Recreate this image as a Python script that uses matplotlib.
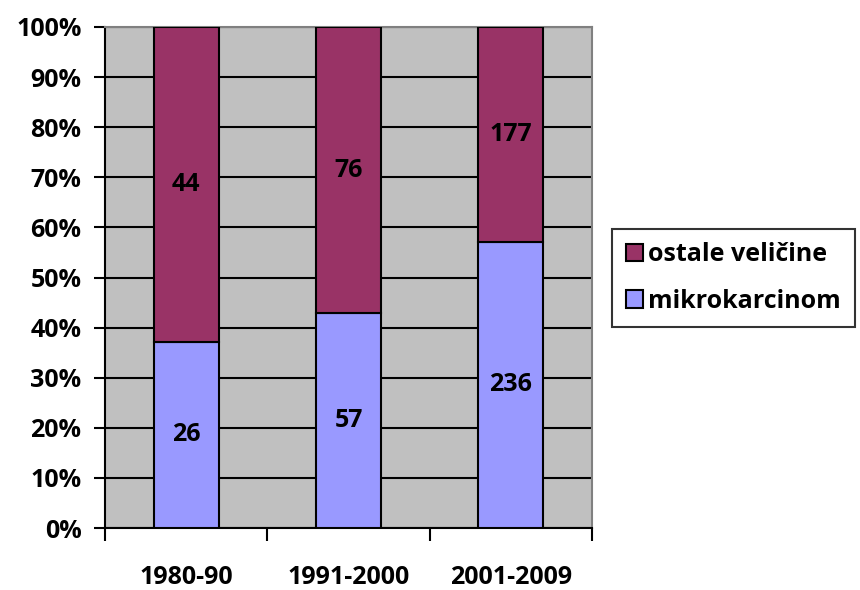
import matplotlib
matplotlib.use("Agg")
import matplotlib.pyplot as plt
import numpy as np

categories = ["1980-90", "1991-2000", "2001-2009"]
mikro = [26, 57, 236]
ostale = [44, 76, 177]
series_names = ["mikrokarcinom", "ostale veličine"]
colors = ["#9999FF", "#993366"]

plt.rcParams['font.family'] = ['Open Sans', 'DejaVu Sans']
plt.rcParams['font.weight'] = 'bold'
FS = 18

fig = plt.figure(figsize=(8.6, 5.9), dpi=100)
ax = fig.add_axes([105/860, 1-528/590, (592-105)/860, (528-27)/590])
ax.set_facecolor("#C0C0C0")

mikro_a = np.array(mikro, float)
ost_a = np.array(ostale, float)
tot = mikro_a + ost_a
p1 = mikro_a / tot * 100
p2 = ost_a / tot * 100
x = np.arange(len(categories))

ax.set_axisbelow(True)
ax.yaxis.grid(True, color='black', linewidth=1.5)
b1 = ax.bar(x, p1, width=0.4, color=colors[0], edgecolor='black', linewidth=1.5, label=series_names[0], zorder=3)
b2 = ax.bar(x, p2, width=0.4, bottom=p1, color=colors[1], edgecolor='black', linewidth=1.5, label=series_names[1], zorder=3)

for i in range(len(categories)):
    ax.text(x[i], p1[i]/2, str(mikro[i]), ha='center', va='center', fontsize=FS, fontweight='bold', zorder=4)
    ax.text(x[i], p1[i] + p2[i]/2, str(ostale[i]), ha='center', va='center', fontsize=FS, fontweight='bold', zorder=4)

ax.set_xlim(-0.5, 2.5)
ax.set_ylim(0, 100)
ax.set_yticks(np.arange(0, 101, 10))
ax.set_yticklabels([f"{v}%" for v in range(0, 101, 10)], fontsize=FS, fontweight='bold')
ax.set_xticks([-0.5, 0.5, 1.5, 2.5])
ax.set_xticklabels([])
ax.set_xticks(x, minor=True)
ax.set_xticklabels(categories, minor=True, fontsize=FS, fontweight='bold')
ax.tick_params(axis='x', which='minor', length=0, pad=27)
ax.tick_params(axis='x', which='major', length=9, width=1.5, direction='out')
ax.tick_params(axis='y', length=8, width=1.5, direction='out', pad=9)

for s in ['top', 'right']:
    ax.spines[s].set_color('#808080')
    ax.spines[s].set_linewidth(1.5)
ax.spines['left'].set_linewidth(1.5)
ax.spines['bottom'].set_linewidth(1.5)

handles = [b2, b1]
labels = [series_names[1], series_names[0]]
leg = fig.legend(handles, labels, loc='center left', bbox_to_anchor=(612/860, 1-278/590),
                 frameon=True, fancybox=False, edgecolor='black',
                 prop={'weight': 'bold', 'size': FS}, handlelength=0.7, handleheight=0.7,
                 handletextpad=0.2, borderpad=0.55, labelspacing=0.85, borderaxespad=0)
leg.get_frame().set_linewidth(1.5)

fig.savefig("out.png", dpi=100)
